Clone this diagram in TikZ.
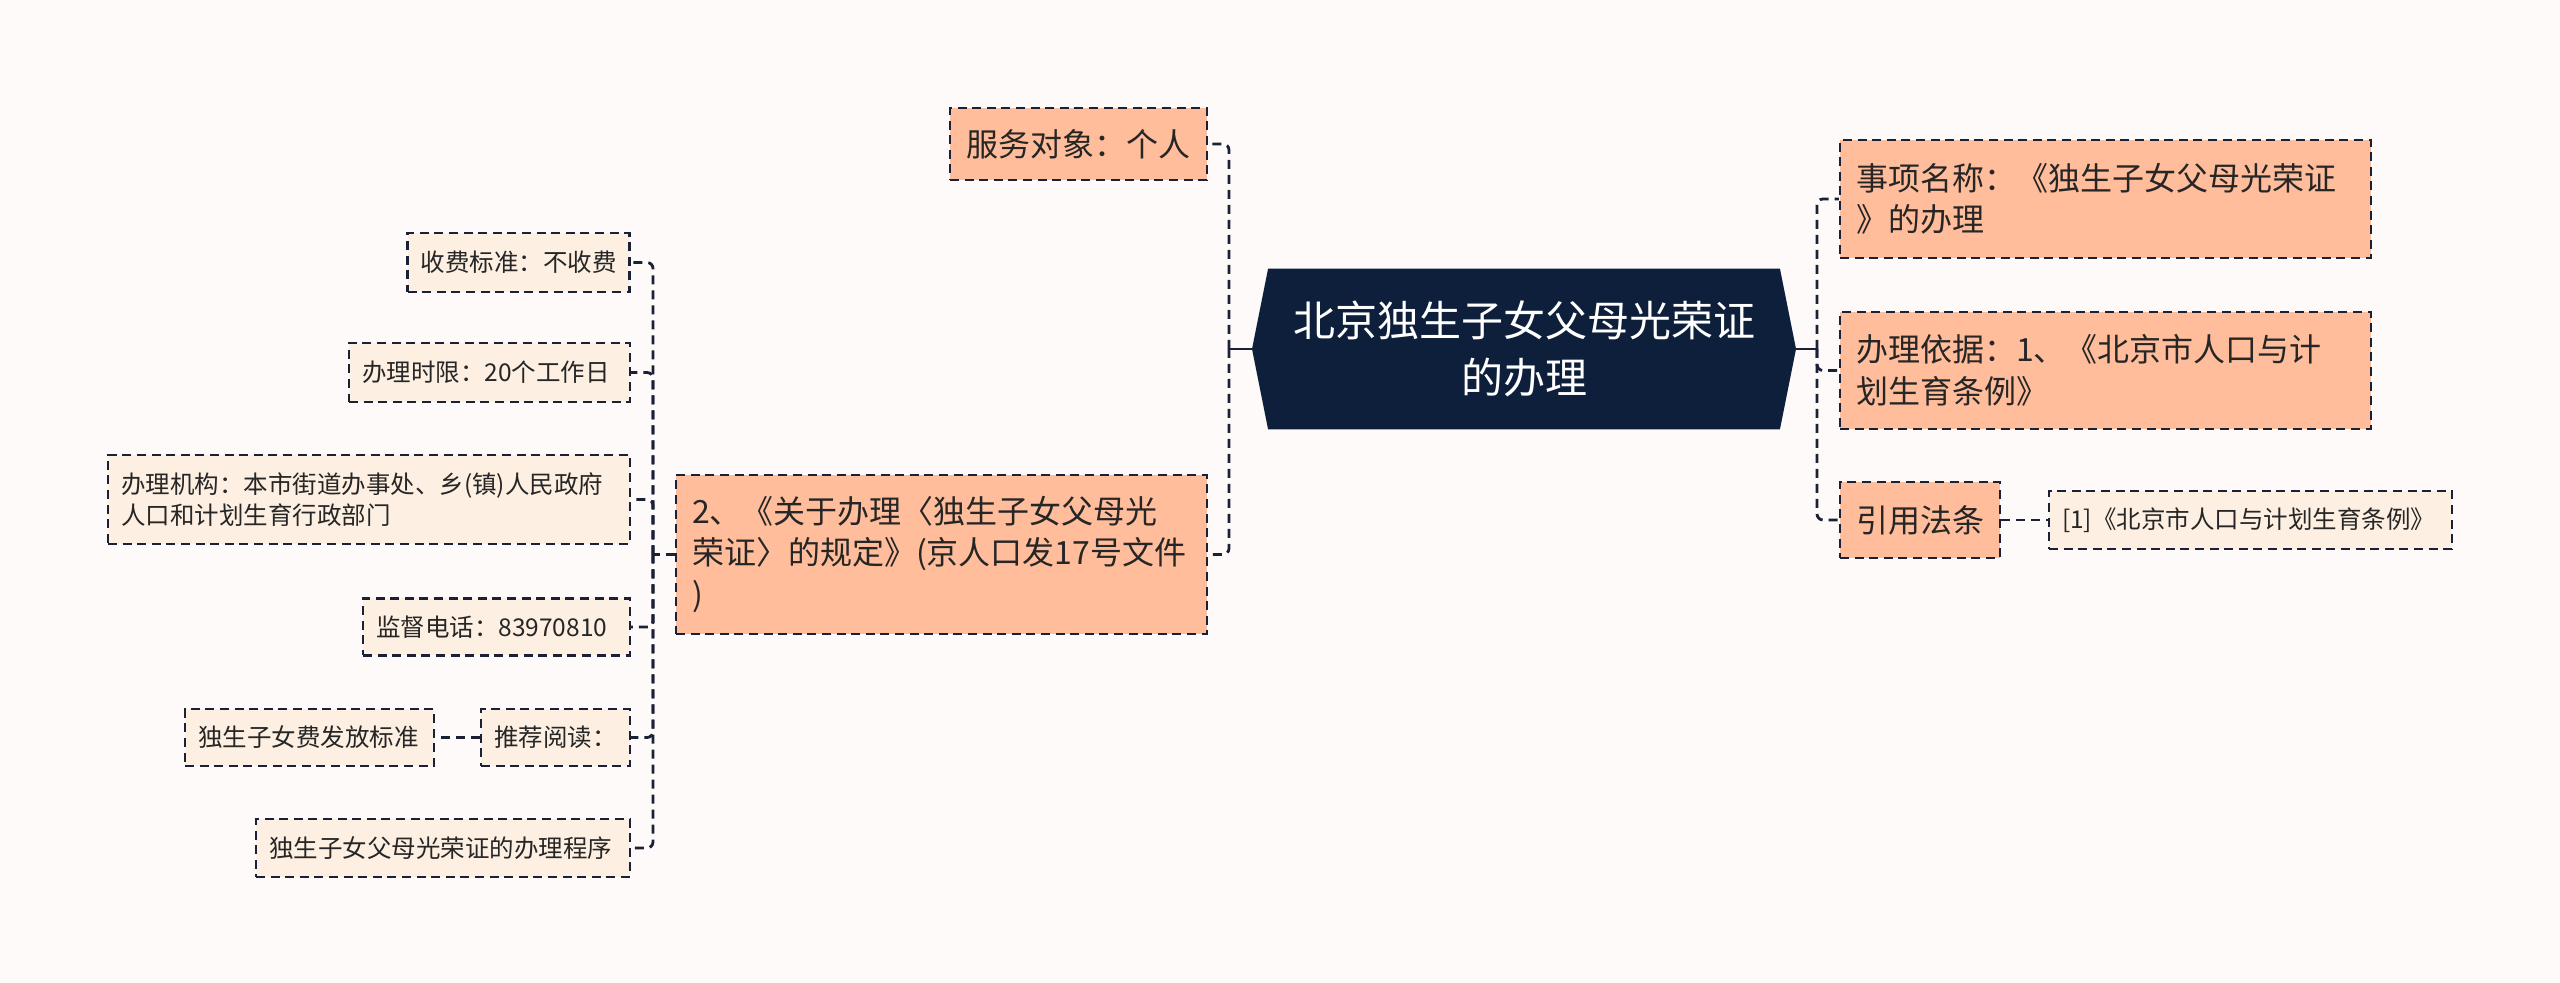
\documentclass[tikz,border=0pt]{standalone}
\usepackage{fontspec}
\setmainfont{Noto Sans CJK SC}
\usetikzlibrary{backgrounds,calc}
\definecolor{bg}{HTML}{FDFAF9}
\definecolor{salmon}{HTML}{FFBD9B}
\definecolor{cream}{HTML}{FDF0E2}
\definecolor{navy}{HTML}{0D1F3A}
\definecolor{edge}{HTML}{1A2035}
\definecolor{ink}{HTML}{262626}
\begin{document}
\begin{tikzpicture}[x=0.5pt,y=-0.5pt,
 lvone/.style={draw=edge, fill=salmon, dash pattern=on 4.5pt off 2.8pt, line width=1.2pt, text=ink, align=left, inner xsep=8pt, inner ysep=0pt, font=\fontsize{16pt}{20.75pt}\selectfont},
 lvtwo/.style={draw=edge, fill=cream, dash pattern=on 4.5pt off 2.8pt, line width=1.2pt, text=ink, align=left, inner xsep=6.5pt, inner ysep=0pt, font=\fontsize{12.25pt}{15.5pt}\selectfont},
 conn/.style={draw=edge, line width=1.4pt, dash pattern=on 4.5pt off 3pt, rounded corners=3pt},
 stub/.style={draw=edge, line width=1.4pt},
 centre/.style={text=white, align=center, font=\fontsize{21pt}{28.5pt}\selectfont, minimum width=255.5pt, minimum height=80pt, inner sep=0pt}
]
\useasboundingbox (0,0) rectangle (2560,983);

% centre
\node[centre] (c) at (1524,349) {北京独生子女父母光荣证\\的办理};
\coordinate (cl) at (1252,349);
\coordinate (cr) at (1796,349);
\coordinate (lt) at (1229,349);
\coordinate (rt) at (1817,349);
\coordinate (st) at (653,554.5);

% level one
\node[lvone, text width=112.5pt, minimum height=36pt] (s1) at (1078.5,144) {服务对象：个人};
\node[lvone, text width=249.5pt, minimum height=79.5pt] (s2) at (941.5,554.5) {2、《关于办理〈独生子女父母光\\荣证〉的规定》(京人口发17号文件\\)};
\node[lvone, text width=249.5pt, minimum height=59pt] (r1) at (2105.5,199) {事项名称：《独生子女父母光荣证\\》的办理};
\node[lvone, text width=249.5pt, minimum height=58.5pt] (r2) at (2105.5,370.5) {办理依据：1、《北京市人口与计\\划生育条例》};
\node[lvone, text width=64pt, minimum height=38pt] (r3) at (1920,520) {引用法条};

% level two
\node[lvtwo, text width=98pt, minimum height=29.5pt] (a1) at (518.5,262.5) {收费标准：不收费};
\node[lvtwo, text width=127.5pt, minimum height=29.5pt] (a2) at (489.5,372.5) {办理时限：20个工作日};
\node[lvtwo, text width=248pt, minimum height=44.5pt] (a3) at (369,499.5) {办理机构：本市街道办事处、乡(镇)人民政府\\人口和计划生育行政部门};
\node[lvtwo, text width=120.5pt, minimum height=28.5pt] (a4) at (496.5,627) {监督电话：83970810};
\node[lvtwo, text width=61.5pt, minimum height=28.5pt] (a5) at (555.5,737.5) {推荐阅读：};
\node[lvtwo, text width=111.5pt, minimum height=28.5pt] (a6) at (309.5,737.5) {独生子女费发放标准};
\node[lvtwo, text width=174pt, minimum height=29pt] (a7) at (443,848) {独生子女父母光荣证的办理程序};
\node[lvtwo, text width=188.5pt, minimum height=29pt] (b1) at (2250.5,520) {[1]《北京市人口与计划生育条例》};

\begin{scope}[on background layer]
\fill[bg] (0,0) rectangle (2560,983);
\fill[navy] (c.north west) -- (c.north east) -- (cr) -- (c.south east) -- (c.south west) -- (cl) -- cycle;
\draw[stub] (cl) -- (lt);
\draw[stub] (cr) -- (rt);
\draw[conn] (lt) |- (s1.east);
\draw[conn] (lt) |- (s2.east);
\draw[conn] (rt) |- (r1.west);
\draw[conn] (rt) |- (r2.west);
\draw[conn] (rt) |- (r3.west);
\draw[conn] (r3.east) -- (b1.west);
\draw[conn] (s2.west) -- (st);
\draw[conn] (st) |- (a1.east);
\draw[conn] (st) |- (a2.east);
\draw[conn] (st) |- (a3.east);
\draw[conn] (st) |- (a4.east);
\draw[conn] (st) |- (a5.east);
\draw[conn] (st) |- (a7.east);
\draw[conn] (a5.west) -- (a6.east);
\end{scope}
\end{tikzpicture}
\end{document}
